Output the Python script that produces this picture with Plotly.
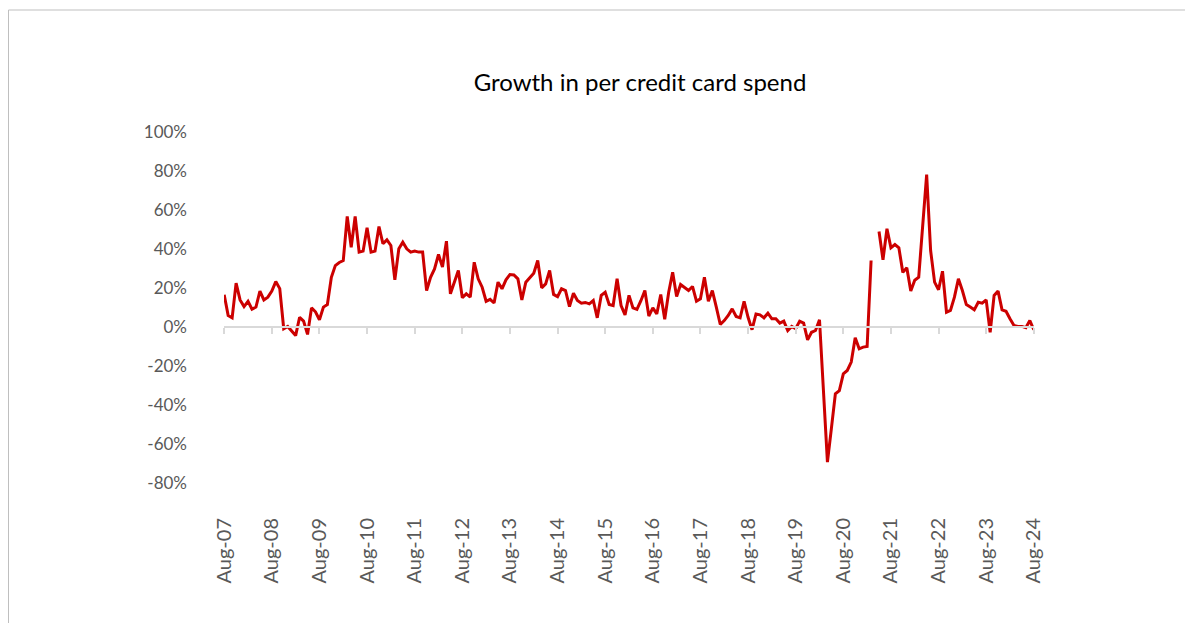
import plotly.graph_objects as go
import pandas as pd

# Monthly categories Aug-07 .. Aug-24
months = pd.date_range("2007-08-01", "2024-08-01", freq="MS")
month_labels = [d.strftime("%b-%y") for d in months]

# Growth in per credit card spend (% YoY)
growth_pct = [
    16.5, 5.9, 4.7, 22.5, 13.9, 10.5, 13.2, 9.1, 10.2, 18.4, 13.9, 15.3,      # Aug-07..Jul-08
    18.4, 23.3, 19.7, -0.9, 0.3, -1.8, -4.4, 5.0, 3.0, -3.8, 9.8, 7.8,        # Aug-08..Jul-09
    3.7, 10.2, 11.5, 25.5, 31.5, 33.1, 34.1, 56.7, 40.9, 56.7, 38.4, 38.9,    # Aug-09..Jul-10
    50.9, 38.4, 38.9, 51.5, 42.7, 44.7, 41.8, 24.2, 40.1, 43.5, 40.1, 38.4,   # Aug-10..Jul-11
    38.9, 38.4, 38.4, 18.7, 25.5, 29.8, 37.2, 30.7, 44.0, 17.0, 23.0, 29.0,   # Aug-11..Jul-12
    15.0, 17.0, 15.3, 33.2, 24.7, 20.4, 13.2, 14.2, 12.3, 23.0, 19.6, 24.2,   # Aug-12..Jul-13
    26.9, 26.7, 24.7, 13.9, 23.0, 25.5, 27.6, 34.1, 20.1, 22.1, 29.0, 16.7,   # Aug-13..Jul-14
    15.6, 19.6, 18.7, 10.5, 17.3, 13.6, 12.2, 12.6, 11.9, 13.6, 4.7, 16.2,    # Aug-14..Jul-15
    17.8, 11.5, 11.0, 24.7, 11.0, 6.2, 16.2, 9.8, 9.0, 13.5, 18.7, 5.6,       # Aug-15..Jul-16
    9.8, 6.7, 16.7, 4.0, 17.8, 28.1, 15.6, 21.8, 20.4, 18.7, 20.8, 13.2,      # Aug-16..Jul-17
    14.5, 25.5, 13.2, 18.7, 10.2, 1.3, 3.3, 5.9, 9.3, 5.4, 4.7, 13.2,         # Aug-17..Jul-18
    5.0, -1.4, 6.7, 6.2, 4.7, 7.1, 4.2, 4.2, 2.0, 3.0, -1.8, 0.3,             # Aug-18..Jul-19
    -0.9, 3.0, 2.0, -6.6, -2.7, -1.8, 3.7, -33.0, -69.3, -52.0, -34.3, -32.6, # Aug-19..Jul-20
    -24.0, -22.3, -18.0, -5.5, -11.2, -10.3, -10.0, 34.1, None, 49.0, 34.5, 50.4,  # Aug-20..Jul-21
    40.6, 42.3, 40.6, 28.0, 30.4, 18.5, 24.0, 25.5, 50.4, 78.2, 39.2, 23.0,   # Aug-21..Jul-22
    19.1, 28.6, 7.6, 8.5, 15.3, 24.7, 18.7, 11.5, 10.2, 8.8, 12.7, 12.2,      # Aug-22..Jul-23
    13.9, -2.7, 16.2, 18.4, 8.8, 8.1, 4.2, 0.8, 0.3, 0.3, -0.4, 3.3,          # Aug-23..Jul-24
    -1.4,                                                                     # Aug-24
]

tick_idx = list(range(0, len(month_labels), 12))
tick_text = [month_labels[i] for i in tick_idx]
y_ticks = list(range(-80, 101, 20))
y_text = [f"{v}%" for v in y_ticks]

x_idx = list(range(len(growth_pct)))

FONT = "Lato, Carlito, 'Open Sans', sans-serif"
GREY = "#595959"

fig = go.Figure()
fig.add_trace(go.Scatter(
    x=x_idx, y=growth_pct, mode="lines",
    line=dict(color="#CC0000", width=3),
    connectgaps=False, showlegend=False,
    text=month_labels, hovertemplate="%{text}: %{y:.1f}%<extra></extra>",
))
# helper trace for the category axis drawn at the 0% level
fig.add_trace(go.Scatter(
    x=[tick_idx[0], tick_idx[-1]], y=[None, None], xaxis="x2",
    mode="lines", showlegend=False, hoverinfo="skip",
))

# page body has an 8px margin: figure coordinates = screen coordinates - 8
OFF = 8
W, H = 1193 - OFF, 623 - OFF
L, T = 224 - OFF, 132 - OFF
R = W - (1034 - OFF)
B = H - (483 - OFF)
pw, ph = W - L - R, H - T - B

def px(xs):
    return (xs - OFF - L) / pw

def py(ys):
    return (H - B - (ys - OFF)) / ph

fig.update_layout(
    width=W, height=H,
    margin=dict(l=L, r=R, t=T, b=B),
    paper_bgcolor="white", plot_bgcolor="white",
    font=dict(family=FONT, color=GREY, size=17),
    title=dict(
        text="Growth in per credit card spend",
        font=dict(family=FONT, size=24, color="#000000"),
        x=px(640), xref="paper", xanchor="center",
        y=1 - (83 - OFF) / H, yref="container", yanchor="middle",
    ),
    xaxis=dict(
        range=[-0.05, 204.05], tickmode="array", tickvals=tick_idx, ticktext=tick_text,
        tickangle=-90, showline=False, ticks="", showgrid=False, zeroline=False,
        tickfont=dict(size=20, color=GREY), ticklabelstandoff=30,
    ),
    xaxis2=dict(
        overlaying="x", anchor="free", position=80 / 180,
        range=[-0.05, 204.05], tickmode="array", tickvals=tick_idx,
        showticklabels=False, ticks="outside", ticklen=6, tickwidth=1.5,
        tickcolor="#d9d9d9", showline=True, linecolor="#d9d9d9", linewidth=2,
        showgrid=False, zeroline=False,
    ),
    yaxis=dict(
        range=[-80, 100], tickmode="array", tickvals=y_ticks, ticktext=y_text,
        showgrid=False, zeroline=False, showline=False, ticks="",
        tickfont=dict(size=17, color=GREY), ticklabelstandoff=36,
    ),
    shapes=[
        dict(type="line", xref="paper", yref="paper",
             x0=px(8.5), x1=px(1200), y0=py(10), y1=py(10),
             line=dict(color="#bfbfbf", width=1)),
        dict(type="line", xref="paper", yref="paper",
             x0=px(8.5), x1=px(8.5), y0=py(10), y1=py(640),
             line=dict(color="#bfbfbf", width=1)),
    ],
)

fig.write_html("out.html")
